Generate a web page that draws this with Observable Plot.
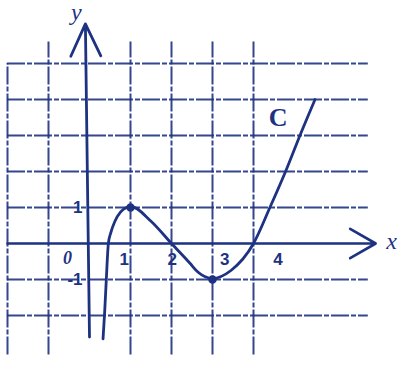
<!DOCTYPE html>
<html>
<head>
<meta charset="utf-8">
<script src="https://cdn.jsdelivr.net/npm/d3@7"></script>
<script src="https://cdn.jsdelivr.net/npm/@observablehq/plot@0.6"></script>
<style>
  html, body { margin: 0; padding: 0; background: #fff; }
  svg { display: block; }
</style>
</head>
<body>
<div id="chart"></div>
<script>
// ---- data ----
const curveX = [0.33, 0.37, 0.41, 0.46, 0.52, 0.62, 0.76, 0.9, 1.0, 1.5, 2.0, 2.45, 2.65, 3.0, 3.45, 4.0, 4.4, 4.8, 5.15, 5.5];
const curveY = [-2.65, -1.9, -1.0, 0.0, 0.3, 0.62, 0.88, 1.0, 1.03, 0.62, 0.0, -0.55, -0.8, -0.97, -0.75, 0.0, 1.0, 2.05, 3.05, 4.0];
const pointX = [1, 3];
const pointY = [1, -1];
const gridX = [-2, -1, 1, 2, 3, 4];
const gridY = [-2, -1, 1, 2, 3, 4, 5];
const xTickLabels = ["1", "2", "3", "4"];
const xTickLabelPos = [0.85, 2.02, 3.3, 4.6];
const yTickLabels = ["1", "-1"];
const yTickValues = [1, -1];
const curveName = "C";

const ink = "#1e3282";
const curve = curveX.map((x, i) => ({x, y: curveY[i]}));
const pts = pointX.map((x, i) => ({x, y: pointY[i]}));

const chart = Plot.plot({
  width: 399,
  height: 367,
  margin: 0,
  x: {domain: [-89 / 41, 310 / 41], axis: null},
  y: {domain: [-124 / 36, 243 / 36], axis: null},
  style: {background: "#fff"},
  marks: [
    // grid
    Plot.ruleX(gridX, {x: d => d, y1: -3.1, y2: d => d === -2 ? 5 : 5.6, stroke: ink, strokeWidth: 2, strokeDasharray: "18,2,5,2", strokeOpacity: 0.9}),
    Plot.ruleY(gridY, {y: d => d, x1: -2, x2: 6.8, stroke: ink, strokeWidth: 2, strokeDasharray: "18,2,5,2", strokeOpacity: 0.9}),
    // axes with arrows
    Plot.arrow([{x1: -2, y1: 0, x2: 6.98, y2: 0}], {x1: "x1", y1: "y1", x2: "x2", y2: "y2", stroke: ink, strokeWidth: 2.6, headLength: 17, headAngle: 60}),
    Plot.arrow([{x1: 0, y1: -2.6, x2: -0.1, y2: 6.1}], {x1: "x1", y1: "y1", x2: "x2", y2: "y2", stroke: ink, strokeWidth: 2.8, headLength: 19, headAngle: 50}),
    // curve
    Plot.line(curve, {x: "x", y: "y", curve: "monotone-x", stroke: ink, strokeWidth: 2.8}),
    Plot.dot(pts, {x: "x", y: "y", r: 3.5, fill: ink, stroke: ink}),
    // labels
    Plot.text(xTickLabels, {x: (d, i) => xTickLabelPos[i], y: 0, dy: 16, text: d => d, fill: ink, fontSize: 17, fontWeight: "bold", fontFamily: "Liberation Sans Narrow, Liberation Sans"}),
    Plot.text(yTickLabels, {x: 0, y: (d, i) => yTickValues[i], dx: -7, textAnchor: "end", text: d => d, fill: ink, fontSize: 17, fontWeight: "bold", fontFamily: "Liberation Sans Narrow, Liberation Sans"}),
    Plot.text(["0"], {x: 0, y: 0, dx: -22, dy: 15, text: d => d, fill: ink, fontSize: 18, fontStyle: "italic", fontWeight: "bold", fontFamily: "Liberation Serif"}),
    Plot.text(["x"], {x: 6.98, y: 0, dx: 16, dy: -2, text: d => d, fill: ink, fontSize: 24, fontStyle: "italic", fontFamily: "Liberation Serif"}),
    Plot.text(["y"], {x: -0.1, y: 6.1, dx: -9, dy: -12, text: d => d, fill: ink, fontSize: 24, fontStyle: "italic", fontFamily: "Liberation Serif"}),
    Plot.text([curveName], {x: 4.6, y: 3.5, text: d => d, fill: ink, fontSize: 26, fontWeight: "bold", fontFamily: "Liberation Serif"})
  ]
});
document.getElementById("chart").appendChild(chart);
</script>
</body>
</html>
